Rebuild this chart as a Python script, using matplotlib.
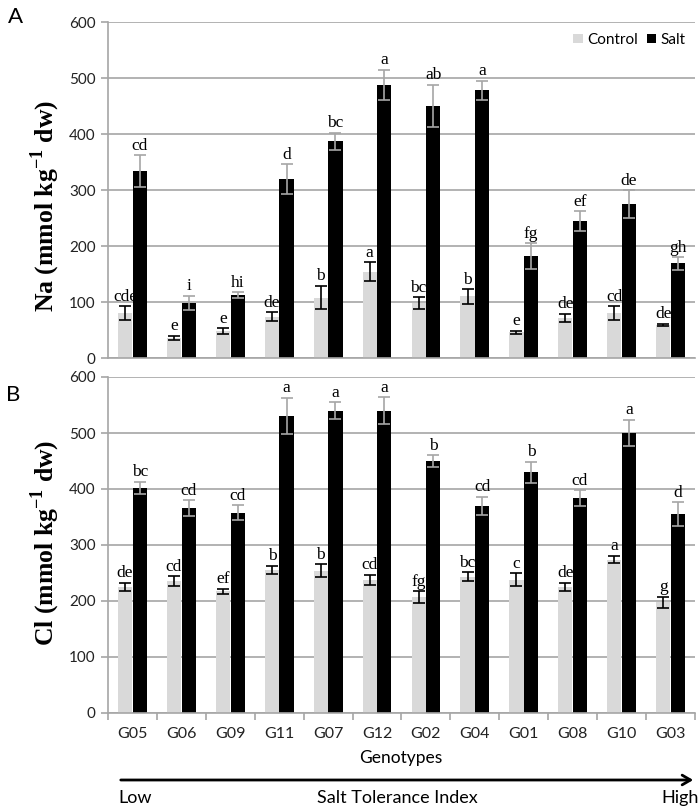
import numpy as np
import matplotlib
matplotlib.use("Agg")
import matplotlib.pyplot as plt

plt.rcParams['font.family'] = ['Lato', 'DejaVu Sans']
plt.rcParams['mathtext.fontset'] = 'custom'
plt.rcParams['mathtext.bf'] = 'Liberation Serif:bold'
plt.rcParams['mathtext.rm'] = 'Liberation Serif:bold'

genotypes = ['G05', 'G06', 'G09', 'G11', 'G07', 'G12', 'G02', 'G04', 'G01', 'G08', 'G10', 'G03']

# Na (panel A)
na_ctrl = [80, 36, 48, 74, 108, 154, 98, 110, 46, 72, 80, 59]
na_ctrl_err = [13, 4, 5, 8, 21, 17, 11, 13, 3, 7, 13, 2]
na_salt = [334, 98, 112, 319, 387, 488, 450, 478, 182, 244, 275, 169]
na_salt_err = [28, 13, 5, 27, 15, 27, 38, 17, 23, 18, 25, 11]
na_ctrl_lbl = ['cde', 'e', 'e', 'de', 'b', 'a', 'bc', 'b', 'e', 'de', 'cd', 'de']
na_salt_lbl = ['cd', 'i', 'hi', 'd', 'bc', 'a', 'ab', 'a', 'fg', 'ef', 'de', 'gh']

# Cl (panel B)
cl_ctrl = [225, 235, 217, 256, 254, 238, 207, 243, 238, 225, 274, 198]
cl_ctrl_err = [8, 9, 5, 7, 12, 9, 10, 8, 12, 8, 7, 10]
cl_salt = [402, 366, 358, 531, 540, 540, 450, 370, 430, 384, 500, 355]
cl_salt_err = [11, 14, 13, 32, 15, 24, 10, 16, 19, 14, 24, 21]
cl_ctrl_lbl = ['de', 'cd', 'ef', 'b', 'b', 'cd', 'fg', 'bc', 'c', 'de', 'a', 'g']
cl_salt_lbl = ['bc', 'cd', 'cd', 'a', 'a', 'a', 'b', 'cd', 'b', 'cd', 'a', 'd']

grid_col = '#a6a6a6'
ctrl_col = '#d9d9d9'
W, H = 700, 811

fig = plt.figure(figsize=(7, 8.11), dpi=100)
axA = fig.add_axes([108 / W, 1 - 358 / H, 587 / W, 336 / H])
axB = fig.add_axes([108 / W, 1 - 713 / H, 587 / W, 336 / H])

x = np.arange(len(genotypes))
bw = 0.29


def panel(ax, ctrl, ctrl_err, salt, salt_err, ctrl_lbl, salt_lbl):
    ax.bar(x - 0.15, ctrl, bw, color=ctrl_col, label='Control', zorder=2)
    ax.bar(x + 0.15, salt, bw, color='black', label='Salt', zorder=2)
    ax.errorbar(x - 0.15, ctrl, yerr=ctrl_err, fmt='none', ecolor='black',
                elinewidth=1.2, capsize=4, capthick=1.2, zorder=3)
    ax.errorbar(x + 0.15, salt, yerr=salt_err, fmt='none', ecolor=grid_col,
                elinewidth=1.2, capsize=4, capthick=1.2, zorder=3)
    for i in range(len(x)):
        ax.annotate(ctrl_lbl[i], (x[i] - 0.15, ctrl[i] + ctrl_err[i]), xytext=(0, 1),
                    textcoords='offset points', ha='center', va='bottom',
                    family='Liberation Serif', fontsize=12.5)
        ax.annotate(salt_lbl[i], (x[i] + 0.15, salt[i] + salt_err[i]), xytext=(0, 1),
                    textcoords='offset points', ha='center', va='bottom',
                    family='Liberation Serif', fontsize=12.5)
    ax.set_xlim(-0.5, len(x) - 0.5)
    ax.set_ylim(0, 600)
    ax.set_yticks(range(0, 601, 100))
    ax.yaxis.grid(True, color=grid_col, lw=1.2)
    ax.set_axisbelow(True)
    for s in ['top', 'right']:
        ax.spines[s].set_visible(False)
    ax.spines['left'].set_color(grid_col)
    ax.spines['bottom'].set_color(grid_col)
    ax.spines['left'].set_linewidth(1.2)
    ax.spines['bottom'].set_linewidth(1.2)
    ax.tick_params(axis='y', colors=grid_col, length=5, width=1.2, labelcolor='#222222',
                   labelsize=11, pad=4)


panel(axA, na_ctrl, na_ctrl_err, na_salt, na_salt_err, na_ctrl_lbl, na_salt_lbl)
panel(axB, cl_ctrl, cl_ctrl_err, cl_salt, cl_salt_err, cl_ctrl_lbl, cl_salt_lbl)

axA.set_xticks([])
axB.set_xticks(np.arange(-0.5, len(x)), labels=[])
axB.set_xticks(x, labels=genotypes, minor=True)
axB.tick_params(axis='x', which='major', colors=grid_col, length=5, width=1.2)
axB.tick_params(axis='x', which='minor', length=0, labelsize=11.5, labelcolor='#222222', pad=10)

axA.legend(loc='upper right', bbox_to_anchor=(1.0, 0.995), ncol=2, frameon=False,
           fontsize=11, handlelength=0.6, handleheight=0.6, handletextpad=0.3,
           columnspacing=0.6, borderaxespad=0.2)

fig.text(45 / W, 1 - 206 / H, r'Na (mmol kg$^{\mathbf{-1}}$ dw)', rotation=90,
         ha='center', va='center', family='Liberation Serif', weight='bold', fontsize=18.5)
fig.text(45 / W, 1 - 543 / H, r'Cl (mmol kg$^{\mathbf{-1}}$ dw)', rotation=90,
         ha='center', va='center', family='Liberation Serif', weight='bold', fontsize=18.5)

fig.text(16 / W, 1 - 17 / H, 'A', ha='center', va='center', fontsize=16)
fig.text(13 / W, 1 - 395 / H, 'B', ha='center', va='center', fontsize=16)

fig.text(401 / W, 1 - 758 / H, 'Genotypes', ha='center', va='center', fontsize=12.5)
fig.patches.append(matplotlib.patches.FancyArrowPatch(
    (118 / W, 1 - 780 / H), (696 / W, 1 - 780 / H), transform=fig.transFigure,
    arrowstyle='->,head_length=6,head_width=3.5', lw=2, color='black', mutation_scale=1))
fig.text(118 / W, 1 - 798 / H, 'Low', ha='left', va='center', fontsize=13)
fig.text(397 / W, 1 - 798 / H, 'Salt Tolerance Index', ha='center', va='center', fontsize=13)
fig.text(699 / W, 1 - 798 / H, 'High', ha='right', va='center', fontsize=13)

fig.savefig('out.png', dpi=100)
